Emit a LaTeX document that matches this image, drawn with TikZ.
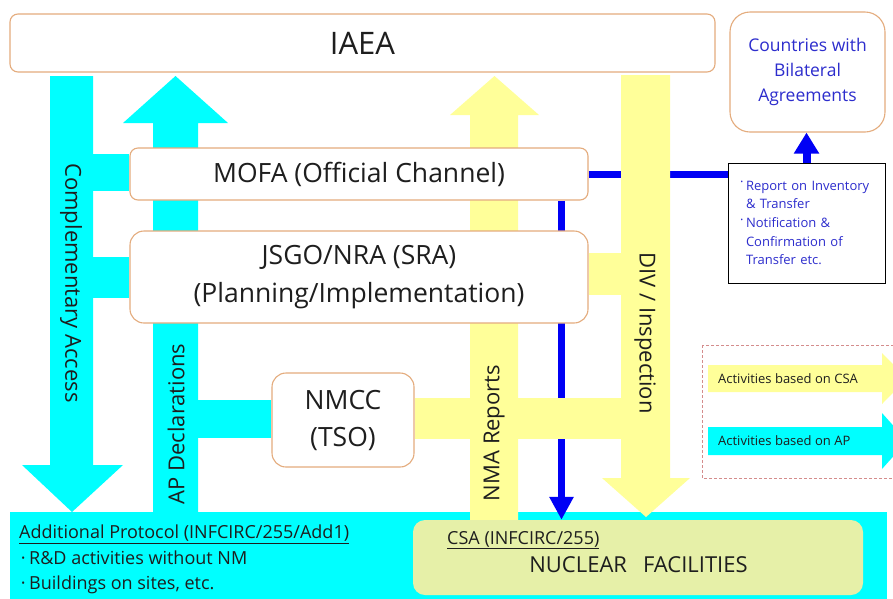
\documentclass[tikz,border=0pt]{standalone}
\usepackage{fontspec}
\setmainfont{Open Sans}
\usetikzlibrary{arrows.meta,calc}
\pgfdeclarelayer{bg}
\pgfdeclarelayer{mid}
\pgfsetlayers{bg,mid,main}
\definecolor{cy}{RGB}{0,255,255}
\definecolor{yl}{RGB}{255,255,153}
\definecolor{bl}{RGB}{0,0,245}
\definecolor{tanc}{RGB}{228,172,125}
\definecolor{txt}{RGB}{30,30,30}
\definecolor{cblue}{RGB}{45,45,205}
\definecolor{nfgreen}{RGB}{230,240,168}
\definecolor{legred}{RGB}{212,140,140}
\tikzset{
  orgbox/.style={draw=tanc, line width=1.1pt, fill=white, text=txt, align=center, inner sep=0pt},
  arrowlbl/.style={text=txt, inner sep=0pt, font=\fontsize{22}{26}\selectfont},
  bottomtxt/.style={text=txt, inner sep=0pt, font=\fontsize{18}{25}\selectfont},
  legtxt/.style={text=txt, inner sep=0pt, font=\fontsize{13}{16}\selectfont},
  blueline/.style={draw=bl, line width=7pt},
}
\newcommand{\rbul}{\makebox[6pt][l]{\raisebox{3.5pt}{·}}}
\begin{document}
\begin{tikzpicture}[x=1pt,y=-1pt]
\path[use as bounding box] (0,0) rectangle (893,598);
\clip (0,0) rectangle (893,598);
\begin{pgfonlayer}{bg}
  \fill[white] (0,0) rectangle (893,598);
  \fill[cy] (10,512) rectangle (887,600);
\end{pgfonlayer}

% main boxes
\node[orgbox, rounded corners=8pt, minimum width=705pt, minimum height=58pt,
      font=\fontsize{31}{36}\selectfont] (iaea) at (362.5,43) {IAEA};
\node[orgbox, rounded corners=8pt, minimum width=458pt, minimum height=52pt,
      font=\fontsize{26.5}{32}\selectfont] (mofa) at (359,174) {MOFA (Official Channel)};
\node[orgbox, rounded corners=14pt, minimum width=458pt, minimum height=92pt,
      font=\fontsize{26.5}{38}\selectfont] (jsgo) at (359,277) {JSGO/NRA (SRA)\\(Planning/Implementation)};
\node[orgbox, rounded corners=14pt, minimum width=142pt, minimum height=94pt,
      font=\fontsize{26.5}{37}\selectfont] (nmcc) at (343,420) {NMCC\\(TSO)};
\node[orgbox, rounded corners=20pt, minimum width=155pt, minimum height=120pt, text=cblue,
      font=\fontsize{17.5}{25}\selectfont] (ctry) at (807.5,72) {Countries with\\Bilateral\\Agreements};
\node[draw=black, line width=0.9pt, fill=white, minimum width=157pt, minimum height=120pt,
      inner sep=0pt, text width=133pt, align=left, text=cblue,
      font=\fontsize{13}{18.7}\selectfont] (rep) at (806.5,223)
  {\rbul Report on Inventory\\
   \hspace*{6pt}\& Transfer\\
   \rbul Notification \&\\
   \hspace*{6pt}Confirmation of\\
   \hspace*{6pt}Transfer etc.};

% nuclear facilities box
\node[fill=nfgreen, rounded corners=12pt, minimum width=450pt, minimum height=75pt, inner sep=0pt] (nf) at (638,557.5) {};
\node[bottomtxt, anchor=base west] (csa) at (447,544) {\underline{CSA (INFCIRC/255)}};
\node[text=txt, inner sep=0pt, font=\fontsize{22}{26}\selectfont] (nftxt) at (638.5,565) {NUCLEAR\hspace{16pt}FACILITIES};

% AP texts
\node[bottomtxt, anchor=base west] (ap1) at (19,538.5) {\underline{Additional Protocol (INFCIRC/255/Add1)}};
\node[bottomtxt, anchor=base west] (ap2) at (17,564) {\makebox[12pt][c]{·}R\&D activities without NM};
\node[bottomtxt, anchor=base west] (ap3) at (17,589.5) {\makebox[12pt][c]{·}Buildings on sites, etc.};

% blue connectors
\coordinate (bx) at (561.5,0);
\begin{pgfonlayer}{bg}
  \draw[blueline] (mofa.east) -- (mofa.east -| rep.west);
  \draw[blueline, -{Triangle[width=23pt,length=23pt]}] (mofa.south -| bx) -- (nf.north -| bx);
\end{pgfonlayer}
\draw[draw=bl, line width=8pt, -{Triangle[width=24pt,length=21pt]}] (rep.north) -- (rep.north |- ctry.south);

% block arrows
\begin{pgfonlayer}{mid}
  % yellow (CSA)
  \fill[yl] (470,522) -- (470,115) -- (450,115) -- (494.5,76) -- (539,115) -- (518,115) -- (518,522) -- cycle;
  \fill[yl] (621,75) -- (670,75) -- (670,478) -- (690,478) -- (646,517) -- (602,478) -- (621,478) -- cycle;
  \fill[yl] (jsgo.east |- 0,253) rectangle (622,295);
  \fill[yl] (nmcc.east |- 0,398) rectangle (622,439);
  % cyan (AP)
  \fill[cy] (50,76) -- (93,76) -- (93,465) -- (123,465) -- (72,512) -- (22,465) -- (50,465) -- cycle;
  \fill[cy] (153,512) -- (153,123) -- (123,123) -- (175.5,76) -- (228,123) -- (198,123) -- (198,512) -- cycle;
  \fill[cy] (92,154) rectangle (mofa.west |- 0,191);
  \fill[cy] (92,257) rectangle (jsgo.west |- 0,298);
  \fill[cy] (197,400) rectangle (nmcc.west |- 0,438);
\end{pgfonlayer}

% arrow labels
\node[arrowlbl, rotate=-90] (lca) at (71,283) {Complementary Access};
\node[arrowlbl, rotate=90] (lapd) at (176,424) {AP Declarations};
\node[arrowlbl, rotate=90] (lnma) at (494,433) {NMA Reports};
\node[arrowlbl, rotate=-90] (ldiv) at (645,333) {DIV / Inspection};

% legend
\draw[legred, line width=0.8pt, dash pattern=on 3pt off 2pt] (702,345) rectangle (915,478);
\fill[yl] (708,365) -- (882,365) -- (882,353) -- (907,378.5) -- (882,404) -- (882,392) -- (708,392) -- cycle;
\fill[cy] (708,427) -- (882,427) -- (882,413) -- (907,441) -- (882,469) -- (882,455) -- (708,455) -- cycle;
\node[legtxt, anchor=west] (lgcsa) at (718,379) {Activities based on CSA};
\node[legtxt, anchor=west] (lgap) at (718,441) {Activities based on AP};
\end{tikzpicture}
\end{document}
